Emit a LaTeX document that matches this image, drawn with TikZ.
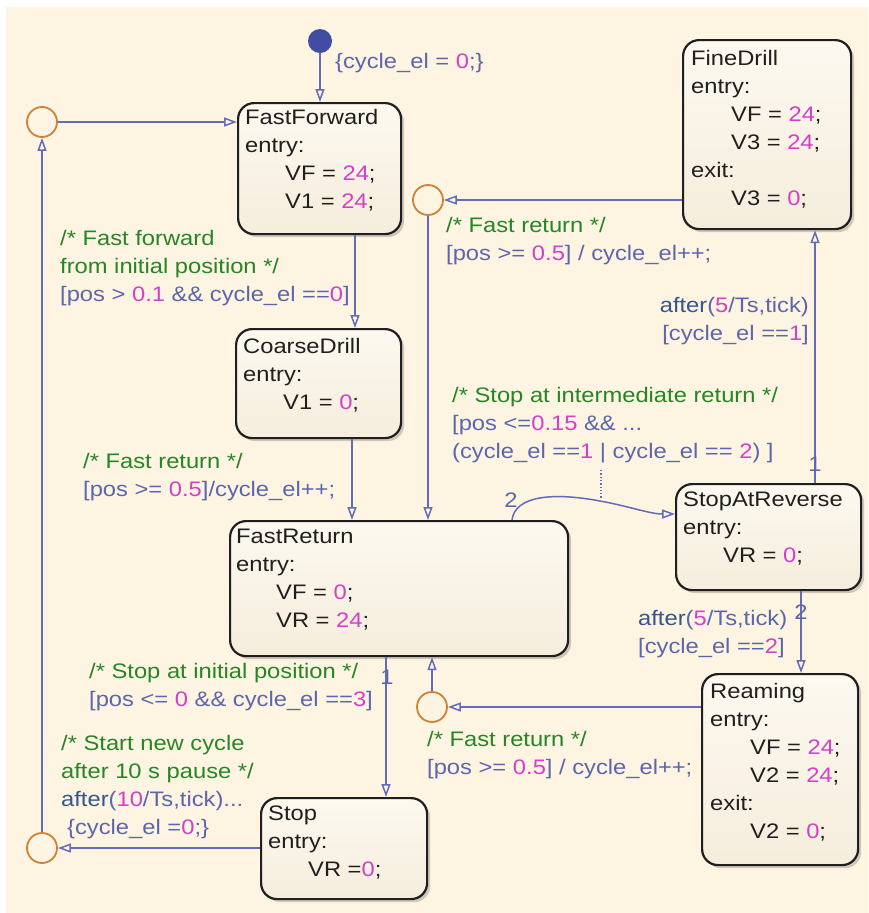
\documentclass[tikz,border=0pt]{standalone}
\usepackage{fontspec}
\setmainfont{Liberation Sans}[FakeStretch=1.13]
\usetikzlibrary{arrows.meta,shadows}

\definecolor{bgc}{RGB}{253,244,226}
\definecolor{stTop}{RGB}{253,249,240}
\definecolor{stBot}{RGB}{245,237,220}
\definecolor{trc}{RGB}{98,108,184}
\definecolor{lblue}{RGB}{92,102,172}
\definecolor{cgreen}{RGB}{38,134,38}
\definecolor{cmag}{RGB}{212,62,200}
\definecolor{ckw}{RGB}{52,86,140}
\definecolor{corange}{RGB}{205,130,55}
\definecolor{cdot}{RGB}{66,76,160}

\newcommand{\nm}[1]{\textcolor{cmag}{#1}}
\newcommand{\cm}[1]{\textcolor{cgreen}{#1}}
\newcommand{\kw}[1]{\textcolor{ckw}{#1}}
\newcommand{\ind}{\hspace*{40pt}}

\begin{document}
\begin{tikzpicture}[x=1pt,y=-1pt,
  font=\fontsize{21}{28}\selectfont,
  state/.style={draw=black!88, line width=2.2pt, rounded corners=16pt,
    top color=stTop, bottom color=stBot, anchor=north west, inner sep=0pt,
    drop shadow={shadow xshift=3pt, shadow yshift=-3pt, opacity=0.18, fill=black}},
  stxt/.style={anchor=base west, inner sep=0pt, text=black!88},
  lbl/.style={anchor=base west, inner sep=0pt, text=lblue},
  lblr/.style={anchor=base east, inner sep=0pt, text=lblue},
  digit/.style={anchor=base, inner sep=0pt, text=lblue},
  trans/.style={draw=trc, line width=1.5pt, -{Triangle[open, length=13pt, width=9pt]}},
  junc/.style={circle, draw=corange, line width=1.8pt, minimum size=30pt, inner sep=0pt},
  initdot/.style={circle, fill=cdot, minimum size=24pt, inner sep=0pt}
]
\useasboundingbox (0,0) rectangle (868,913);
\fill[white] (0,0) rectangle (868,913);
\fill[bgc] (6,7) rectangle (868,913);

% states
\node[state, minimum width=163pt, minimum height=131pt] (ff) at (237,102) {};
\node[state, minimum width=168pt, minimum height=189pt] (fd) at (682,39) {};
\node[state, minimum width=165pt, minimum height=109pt] (cd) at (235,328) {};
\node[state, minimum width=338pt, minimum height=135pt] (fr) at (229,520) {};
\node[state, minimum width=185pt, minimum height=106pt] (sar) at (675,483) {};
\node[state, minimum width=156pt, minimum height=191pt] (ream) at (701,673) {};
\node[state, minimum width=166pt, minimum height=101pt] (stop) at (260,797) {};

% state texts
\node[stxt] (fft) at (245,124) {\begin{tabular}[t]{@{}l@{}}FastForward\\entry:\\\ind VF = \nm{24};\\\ind V1 = \nm{24};\end{tabular}};
\node[stxt] (fdt) at (691,65) {\begin{tabular}[t]{@{}l@{}}FineDrill\\entry:\\\ind VF = \nm{24};\\\ind V3 = \nm{24};\\exit:\\\ind V3 = \nm{0};\end{tabular}};
\node[stxt] (cdt) at (243,353) {\begin{tabular}[t]{@{}l@{}}CoarseDrill\\entry:\\\ind V1 = \nm{0};\end{tabular}};
\node[stxt] (frt) at (236,543) {\begin{tabular}[t]{@{}l@{}}FastReturn\\entry:\\\ind VF = \nm{0};\\\ind VR = \nm{24};\end{tabular}};
\node[stxt] (sart) at (683,506) {\begin{tabular}[t]{@{}l@{}}StopAtReverse\\entry:\\\ind VR = \nm{0};\end{tabular}};
\node[stxt] (reamt) at (710,698) {\begin{tabular}[t]{@{}l@{}}Reaming\\entry:\\\ind VF = \nm{24};\\\ind V2 = \nm{24};\\exit:\\\ind V2 = \nm{0};\end{tabular}};
\node[stxt] (stopt) at (268,820) {\begin{tabular}[t]{@{}l@{}}Stop\\entry:\\\ind VR =\nm{0};\end{tabular}};

% junctions and initial dot
\node[junc] (j1) at (42,122) {};
\node[junc] (j2) at (428,200) {};
\node[junc] (j3) at (432,707) {};
\node[junc] (j4) at (42,848) {};
\node[initdot] (init) at (320,41) {};

% transitions
\draw[trans] (init) -- (320,0 |- ff.north);
\draw[trans] (j1) -- (j1 -| ff.west);
\draw[trans] (355,0 |- ff.south) -- (355,0 |- cd.north);
\draw[trans] (352,0 |- cd.south) -- (352,0 |- fr.north);
\draw[trans] (fd.west |- j2) -- (j2);
\draw[trans] (j2) -- (j2 |- fr.north);
\draw[trans] (815,0 |- sar.north) -- (815,0 |- fd.south);
\draw[trans] (512,0 |- fr.north) .. controls (515,496) and (552,492) .. (600,501)
   .. controls (628,506) and (650,514) .. (sar.west |- 0,514);
\draw[trans] (801,0 |- sar.south) -- (801,0 |- ream.north);
\draw[trans] (ream.west |- j3) -- (j3);
\draw[trans] (j3) -- (j3 |- fr.south);
\draw[trans] (386,0 |- fr.south) -- (386,0 |- stop.north);
\draw[trans] (stop.west |- j4) -- (j4);
\draw[trans] (j4) -- (j1);

\coordinate (dtop) at (601,470);
\coordinate (dbot) at (601,499);
\draw[trc, line width=1.3pt, dotted] (dtop) -- (dbot);

% labels
\node[lbl] (linit) at (335,68) {\{cycle\_el = \nm{0};\}};
\node[lbl] (lff) at (60,245) {\begin{tabular}[t]{@{}l@{}}\cm{/* Fast forward}\\\cm{from initial position */}\\{}[pos > \nm{0.1} \&\& cycle\_el ==\nm{0}]\end{tabular}};
\node[lbl] (lcd) at (83,468) {\begin{tabular}[t]{@{}l@{}}\cm{/* Fast return */}\\{}[pos >= \nm{0.5}]/cycle\_el++;\end{tabular}};
\node[lbl] (lfd) at (446,232) {\begin{tabular}[t]{@{}l@{}}\cm{/* Fast return */}\\{}[pos >= \nm{0.5}] / cycle\_el++;\end{tabular}};
\node[lblr] (lsarfd) at (809,312) {\begin{tabular}[t]{@{}r@{}}\kw{after}(\nm{5}/Ts,tick)\\{}[cycle\_el ==\nm{1}]\end{tabular}};
\node[lbl] (lint) at (452,402) {\begin{tabular}[t]{@{}l@{}}\cm{/* Stop at intermediate return */}\\{}[pos <=\nm{0.15} \&\& ...\\(cycle\_el ==\nm{1} | cycle\_el == \nm{2}) ]\end{tabular}};
\node[lbl] (lsarr) at (638,625) {\begin{tabular}[t]{@{}l@{}}\kw{after}(\nm{5}/Ts,tick)\\{}[cycle\_el ==\nm{2}]\end{tabular}};
\node[lbl] (lream) at (427,746) {\begin{tabular}[t]{@{}l@{}}\cm{/* Fast return */}\\{}[pos >= \nm{0.5}] / cycle\_el++;\end{tabular}};
\node[lbl] (lfrs) at (89,678) {\begin{tabular}[t]{@{}l@{}}\cm{/* Stop at initial position */}\\{}[pos <= \nm{0} \&\& cycle\_el ==\nm{3}]\end{tabular}};
\node[lbl] (lstop) at (61,750) {\begin{tabular}[t]{@{}l@{}}\cm{/* Start new cycle}\\\cm{after 10 s pause */}\\\kw{after}(\nm{10}/Ts,tick)...\\\hspace*{6pt}\{cycle\_el =\nm{0};\}\end{tabular}};

% execution order digits
\node[digit] (d1) at (511,507) {2};
\node[digit] (d2) at (815,471) {1};
\node[digit] (d3) at (801,619) {2};
\node[digit] (d4) at (387,684) {1};
\end{tikzpicture}
\end{document}
